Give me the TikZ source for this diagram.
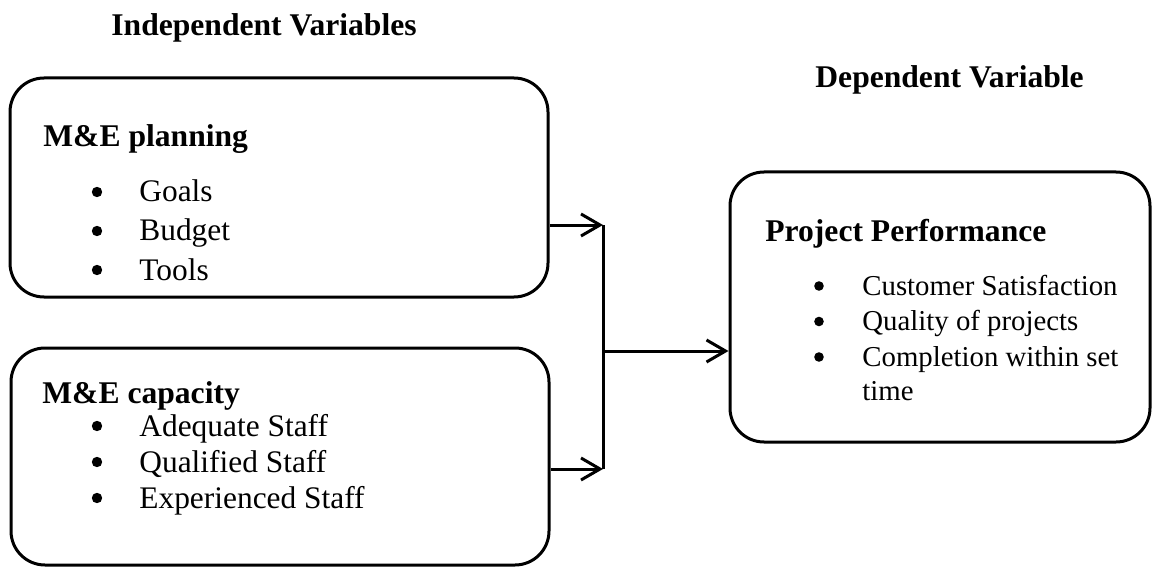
\documentclass[tikz,border=0pt]{standalone}
\usepackage{fontspec}
\setmainfont{Liberation Serif}
\usetikzlibrary{arrows.meta}

\tikzset{
  varbox/.style={draw, line width=1.5pt, rounded corners=17pt, inner sep=0pt},
  boxhead/.style={anchor=base west, inner sep=0pt, font=\fontsize{15.8}{19}\selectfont\bfseries},
  listitem/.style={anchor=base west, inner sep=0pt, font=\fontsize{15.7}{19}\selectfont},
  smallitem/.style={anchor=base west, inner sep=0pt, font=\fontsize{14.4}{17}\selectfont},
  link/.style={line width=1.5pt, -{Straight Barb[length=9.5pt,width=11pt,line width=1.5pt]}}
}

\begin{document}
\begin{tikzpicture}[x=0.5pt, y=-0.5pt]
    \useasboundingbox (0,0) rectangle (1152,567) ;
    \node[boxhead] (indep) at (111,36) {Independent Variables} ;
    \node[boxhead] (dep) at (815,88) {Dependent Variable} ;
    \node[varbox, minimum width=269pt, minimum height=109.5pt] (plan) at (279,187.5) {} ;
    \node[varbox, minimum width=269pt, minimum height=108.5pt] (cap) at (280,456.5) {} ;
    \node[varbox, minimum width=210pt, minimum height=135pt] (perf) at (940,307) {} ;
    \node[boxhead] (planhead) at (43,147) {M\&E planning} ;
    \foreach \t [count=\i] in {Goals, Budget, Tools} {
    \node[listitem] (plan\i) at (139,{202+39*(\i-1)}) {\t} ;
    \fill (97,{192+39*(\i-1)}) circle (2.6pt) ;
    }
    \node[boxhead] (caphead) at (42,403) {M\&E capacity} ;
    \foreach \t [count=\i] in {Adequate Staff, Qualified Staff, Experienced Staff} {
    \node[listitem] (cap\i) at (139,{436+36*(\i-1)}) {\t} ;
    \fill (97,{426+36*(\i-1)}) circle (2.6pt) ;
    }
    \node[boxhead] (perfhead) at (765,242) {Project Performance} ;
    \foreach \t [count=\i] in {Customer Satisfaction, Quality of projects, Completion within set} {
    \node[smallitem] (perf\i) at (862,{295+35.5*(\i-1)}) {\t} ;
    \fill (819,{286+35.5*(\i-1)}) circle (2.4pt) ;
    }
    \node[smallitem] (perf4) at (862,400) {time} ;
    \coordinate (top) at (603,225) ;
    \coordinate (bot) at (603,469) ;
    \coordinate (mid) at (603,351) ;
    \draw[link] (plan.east |- top) -- (top) ;
    \draw[link] (cap.east |- bot) -- (bot) ;
    \draw[line width=1.5pt] (top) -- (bot) ;
    \draw[link] (mid) -- (perf.west |- mid) ;
\end{tikzpicture}
\end{document}
